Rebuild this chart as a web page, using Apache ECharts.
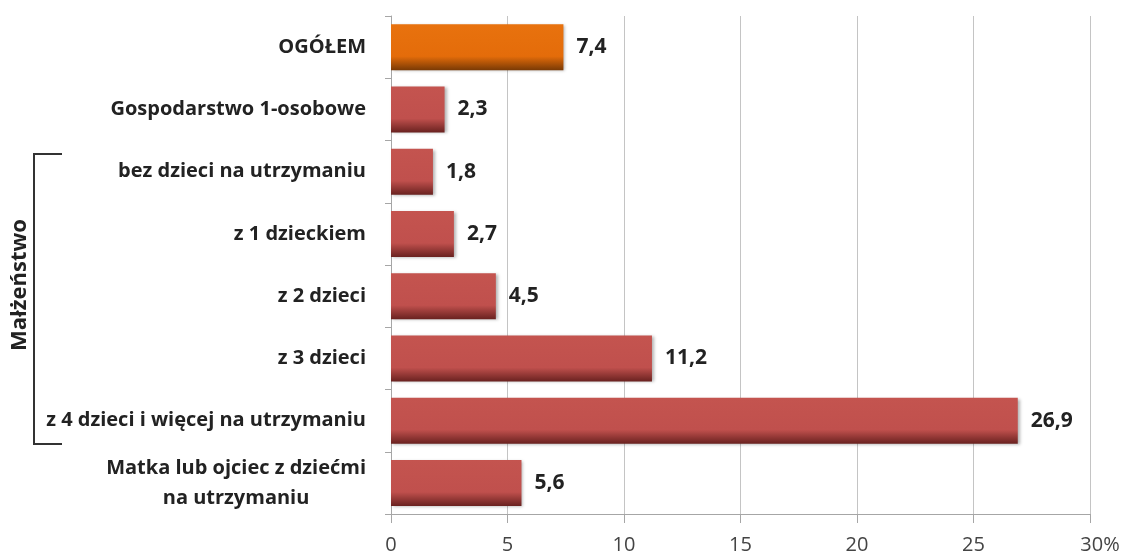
<!DOCTYPE html>
<html><head><meta charset="utf-8">
<script src="https://cdn.jsdelivr.net/npm/echarts@6/dist/echarts.min.js"></script>
<style>html,body{margin:0;padding:0;background:#fff}#c{width:1127px;height:555px}</style>
</head><body><div id="c"></div>
<script>
const categories = ['OGÓŁEM','Gospodarstwo 1-osobowe','bez dzieci na utrzymaniu','z 1 dzieckiem','z 2 dzieci','z 3 dzieci','z 4 dzieci i więcej na utrzymaniu','Matka lub ojciec z dziećmi\nna utrzymaniu'];
const values = [7.4, 2.3, 1.8, 2.7, 4.5, 11.2, 26.9, 5.6];
const highlight = [true, false, false, false, false, false, false, false];
const xTicks = [0, 5, 10, 15, 20, 25, 30];
const groupLabel = 'Małżeństwo';

const FONT = '"Open Sans", Lato, sans-serif';
function grad(top, mid, bottom){
  return new echarts.graphic.LinearGradient(0,0,0,1,[
    {offset:0,color:top},{offset:0.7,color:mid},{offset:1,color:bottom}]);
}
const chart = echarts.init(document.getElementById('c'), null, {renderer:'canvas'});
chart.setOption({
  animation:false,
  grid:{left:391, right:37, top:16, bottom:41, containLabel:false},
  xAxis:{type:'value', min:0, max:30, interval:5,
    axisLine:{show:true, lineStyle:{color:'#a6a6a6', width:1}},
    axisTick:{show:true, length:9, lineStyle:{color:'#a6a6a6'}},
    splitLine:{show:true, lineStyle:{color:'#c4c4c4', width:1}},
    axisLabel:{color:'#444', fontFamily:FONT, fontSize:20, margin:21,
      formatter:function(v){ return v===xTicks[xTicks.length-1] ? '{p|'+v+'%}' : String(v); },
      rich:{p:{color:'#444', fontFamily:FONT, fontSize:20, padding:[0,0,0,20]}}}
  },
  yAxis:{type:'category', data:categories, inverse:true,
    axisLine:{show:true, lineStyle:{color:'#a6a6a6'}},
    axisTick:{show:true, length:6, lineStyle:{color:'#a6a6a6'}},
    axisLabel:{color:'#222', fontFamily:FONT, fontWeight:'bold', fontSize:20, margin:25,
      formatter:function(v){
        return v.split('\n').map(function(s){return '{c|'+s+'}';}).join('\n');
      },
      rich:{c:{color:'#222', fontFamily:FONT, fontWeight:'bold', fontSize:20, lineHeight:30, align:'center'}}}
  },
  series:[{type:'bar', barWidth:46,
    data: values.map(function(v,i){
      return {value:v, itemStyle:{color: highlight[i] ? grad('#e8720e','#e46c0a','#7a3a05') : grad('#c4544f','#c0504d','#6a2220')}};
    }),
    itemStyle:{shadowColor:'rgba(0,0,0,0.3)', shadowBlur:3, shadowOffsetX:2, shadowOffsetY:1},
    label:{show:true, position:'right', distance:13, color:'#222', fontFamily:FONT, fontWeight:'bold', fontSize:21,
      formatter:function(p){ return String(p.value).replace('.', ','); }}
  }],
  graphic:[
    {type:'polyline', shape:{points:[[62,154],[34,154],[34,444],[62,444]]}, style:{stroke:'#333', lineWidth:2, fill:null}},
    {type:'text', x:20, y:285, rotation:Math.PI/2,
      style:{text:groupLabel, fill:'#222', font:'bold 22px '+FONT, align:'center', verticalAlign:'middle'}}
  ]
});
</script></body></html>
